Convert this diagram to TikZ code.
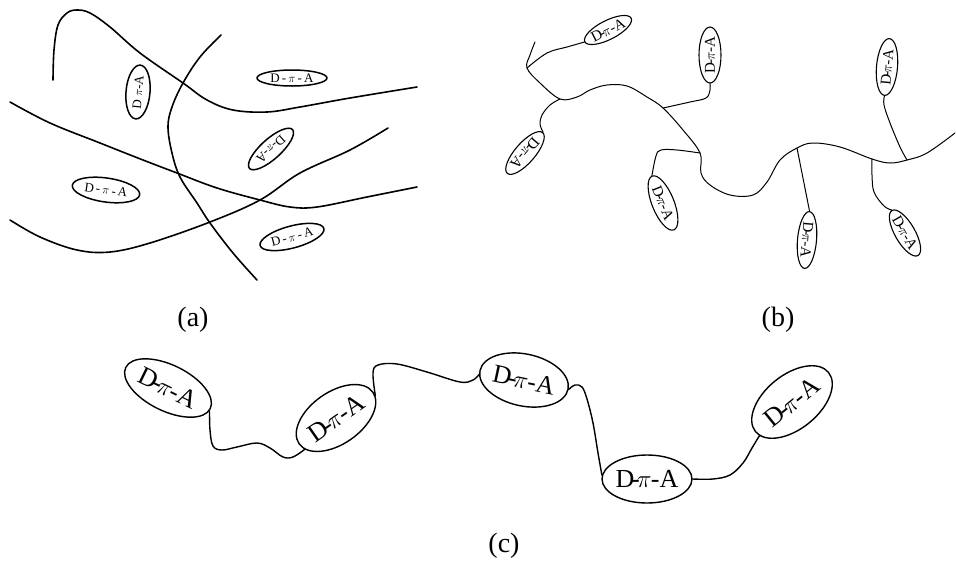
\documentclass[tikz,border=0pt]{standalone}
\usepackage{fontspec}
\setmainfont{Liberation Serif}
\usetikzlibrary{shapes.geometric}
\newcommand{\zt}[1]{\makebox[0pt]{\raisebox{-0.33em}[0pt][0pt]{#1}}}
\newcommand{\dpa}{D\kern-0.12em-\kern-0.12em$\pi$\kern-0.02em-A}
\newcommand{\dpas}{D\,-\,$\pi$\,-\,A}
\begin{document}
\begin{tikzpicture}[x=1pt,y=-1pt,
  mol/.style={ellipse,draw,inner sep=0pt},
  amol/.style={mol,line width=1.5pt,font=\fontsize{13}{13}\selectfont},
  bmol/.style={mol,line width=1.1pt,font=\fontsize{15}{15}\selectfont},
  cmol/.style={mol,line width=1.4pt,font=\fontsize{26}{26}\selectfont},
  aline/.style={line width=1.6pt,line cap=round},
  bline/.style={line width=1pt,line cap=round},
  cline/.style={line width=1.4pt,line cap=round},
  lab/.style={inner sep=0pt,font=\fontsize{28}{28}\selectfont}]
\useasboundingbox (0,0) rectangle (956,560);

% ---------- panel (a) ----------
\draw[aline] plot[smooth,tension=0.6] coordinates {(53,80) (54,50) (58,25) (67,13) (77,10) (90,13) (110,27) (140,53) (183,83) (207,100) (233,110) (267,112) (300,107) (350,98) (417,87)};
\draw[aline] plot[smooth,tension=0.6] coordinates {(221,35) (200,57) (183,83) (172,107) (168,127) (172,153) (180,177) (197,203) (210,223) (233,253) (257,280)};
\draw[aline] plot[smooth,tension=0.6] coordinates {(10,102) (50,123) (100,143) (143,160) (177,173) (217,188) (260,200) (290,207) (317,207) (367,197) (417,187)};
\draw[aline] plot[smooth,tension=0.6] coordinates {(10,220) (40,237) (77,250) (110,252) (150,243) (210,222) (260,200) (300,173) (350,150) (388,128)};

\node[amol,minimum width=54,minimum height=24,rotate=85] (a1) at (138,92) {\zt{D $\pi$-A}};
\node[amol,minimum width=70,minimum height=16] (a2) at (292,78) {\zt{\dpas}};
\node[amol,minimum width=58,minimum height=20,rotate=222] (a3) at (271,149) {\zt{D-$\pi$-A}};
\node[amol,minimum width=68,minimum height=24,rotate=-8] (a4) at (106,190) {\zt{\dpas}};
\node[amol,minimum width=66,minimum height=22,rotate=15] (a5) at (292,237) {\zt{\dpas}};

% ---------- panel (b) ----------
\node[bmol,minimum width=52,minimum height=19,rotate=27] (p1) at (608,30) {\zt{\dpa}};
\node[bmol,minimum width=54,minimum height=20,rotate=229] (p2) at (525,153) {\zt{\dpa}};
\node[bmol,minimum width=56,minimum height=22,rotate=90] (p3) at (710,55) {\zt{\dpa}};
\node[bmol,minimum width=58,minimum height=22,rotate=-68] (p4) at (663,203) {\zt{\dpa}};
\node[bmol,minimum width=57,minimum height=19,rotate=-95] (p5) at (807,240) {\zt{\dpa}};
\node[bmol,minimum width=52,minimum height=20,rotate=-60] (p6) at (905,233) {\zt{\dpa}};
\node[bmol,minimum width=57,minimum height=21,rotate=85] (p7) at (887,67) {\zt{\dpa}};

\coordinate (s0) at (535,42);
\coordinate (k1) at (527,68);
\coordinate (k2) at (560,99);
\coordinate (k3) at (663,108);
\coordinate (k4) at (700,153);
\coordinate (k5) at (797,148);
\coordinate (k6) at (872,159);
\coordinate (k7) at (907,160);
\coordinate (t0) at (955,133);

\draw[bline] plot[smooth,tension=0.6] coordinates {(s0) (530,55) (k1) (540,83) (k2) (577,97) (590,90) (607,85) (627,86) (647,97) (k3) (683,130) (k4) (701,173) (710,185) (730,195) (753,195) (767,182) (780,160) (k5) (813,143) (840,147) (k6) (890,163) (k7) (927,153) (t0)};
\draw[bline] plot[smooth,tension=0.6] coordinates {(k1) (547,53) (567,47) (p1.180)};
\draw[bline] plot[smooth,tension=0.6] coordinates {(k2) (550,105) (542,115) (540,124) (p2.180)};
\draw[bline] plot[smooth,tension=0.6] coordinates {(k3) (690,102) (706,98) (710,90) (p3.180)};
\draw[bline] plot[smooth,tension=0.6] coordinates {(k4) (677,150) (661,150) (656,156) (p4.180)};
\draw[bline] (k5) -- (p5.180);
\draw[bline] plot[smooth,tension=0.6] coordinates {(k6) (872,175) (874,192) (884,206) (p6.180)};
\draw[bline] plot[smooth,tension=0.6] coordinates {(k7) (900,147) (890,123) (884,105) (p7.180)};

% ---------- panel (c) ----------
\node[cmol,minimum width=94,minimum height=46,rotate=-26] (e1) at (168,388) {\zt{\dpa}};
\node[cmol,minimum width=90,minimum height=52,rotate=35] (e2) at (336,418) {\zt{\dpa}};
\node[cmol,minimum width=90,minimum height=52,rotate=-12] (e3) at (524,380) {\zt{\dpa}};
\node[cmol,minimum width=90,minimum height=48] (e4) at (647,479) {\zt{\dpa}};
\node[cmol,minimum width=94,minimum height=54,rotate=39] (e5) at (792,402) {\zt{\dpa}};

\draw[cline] plot[smooth,tension=0.6] coordinates {(e1.-3) (210,430) (213,446) (222,450) (237,447) (257,443) (270,448) (283,457) (293,457) (e2.190)};
\draw[cline] plot[smooth,tension=0.6] coordinates {(e2.-5) (373,373) (378,365) (397,364) (427,372) (460,382) (473,380) (e3.185)};
\draw[cline] plot[smooth,tension=0.6] coordinates {(e3.0) (575,385) (582,387) (587,399) (593,423) (598,453) (e4.175)};
\draw[cline] plot[smooth,tension=0.6] coordinates {(e4.0) (713,479) (730,475) (743,463) (752,448) (e5.187)};

% ---------- labels ----------
\node[lab] (la) at (193,320) {(a)};
\node[lab] (lb) at (778,320) {(b)};
\node[lab] (lc) at (504,546) {(c)};
\end{tikzpicture}
\end{document}
